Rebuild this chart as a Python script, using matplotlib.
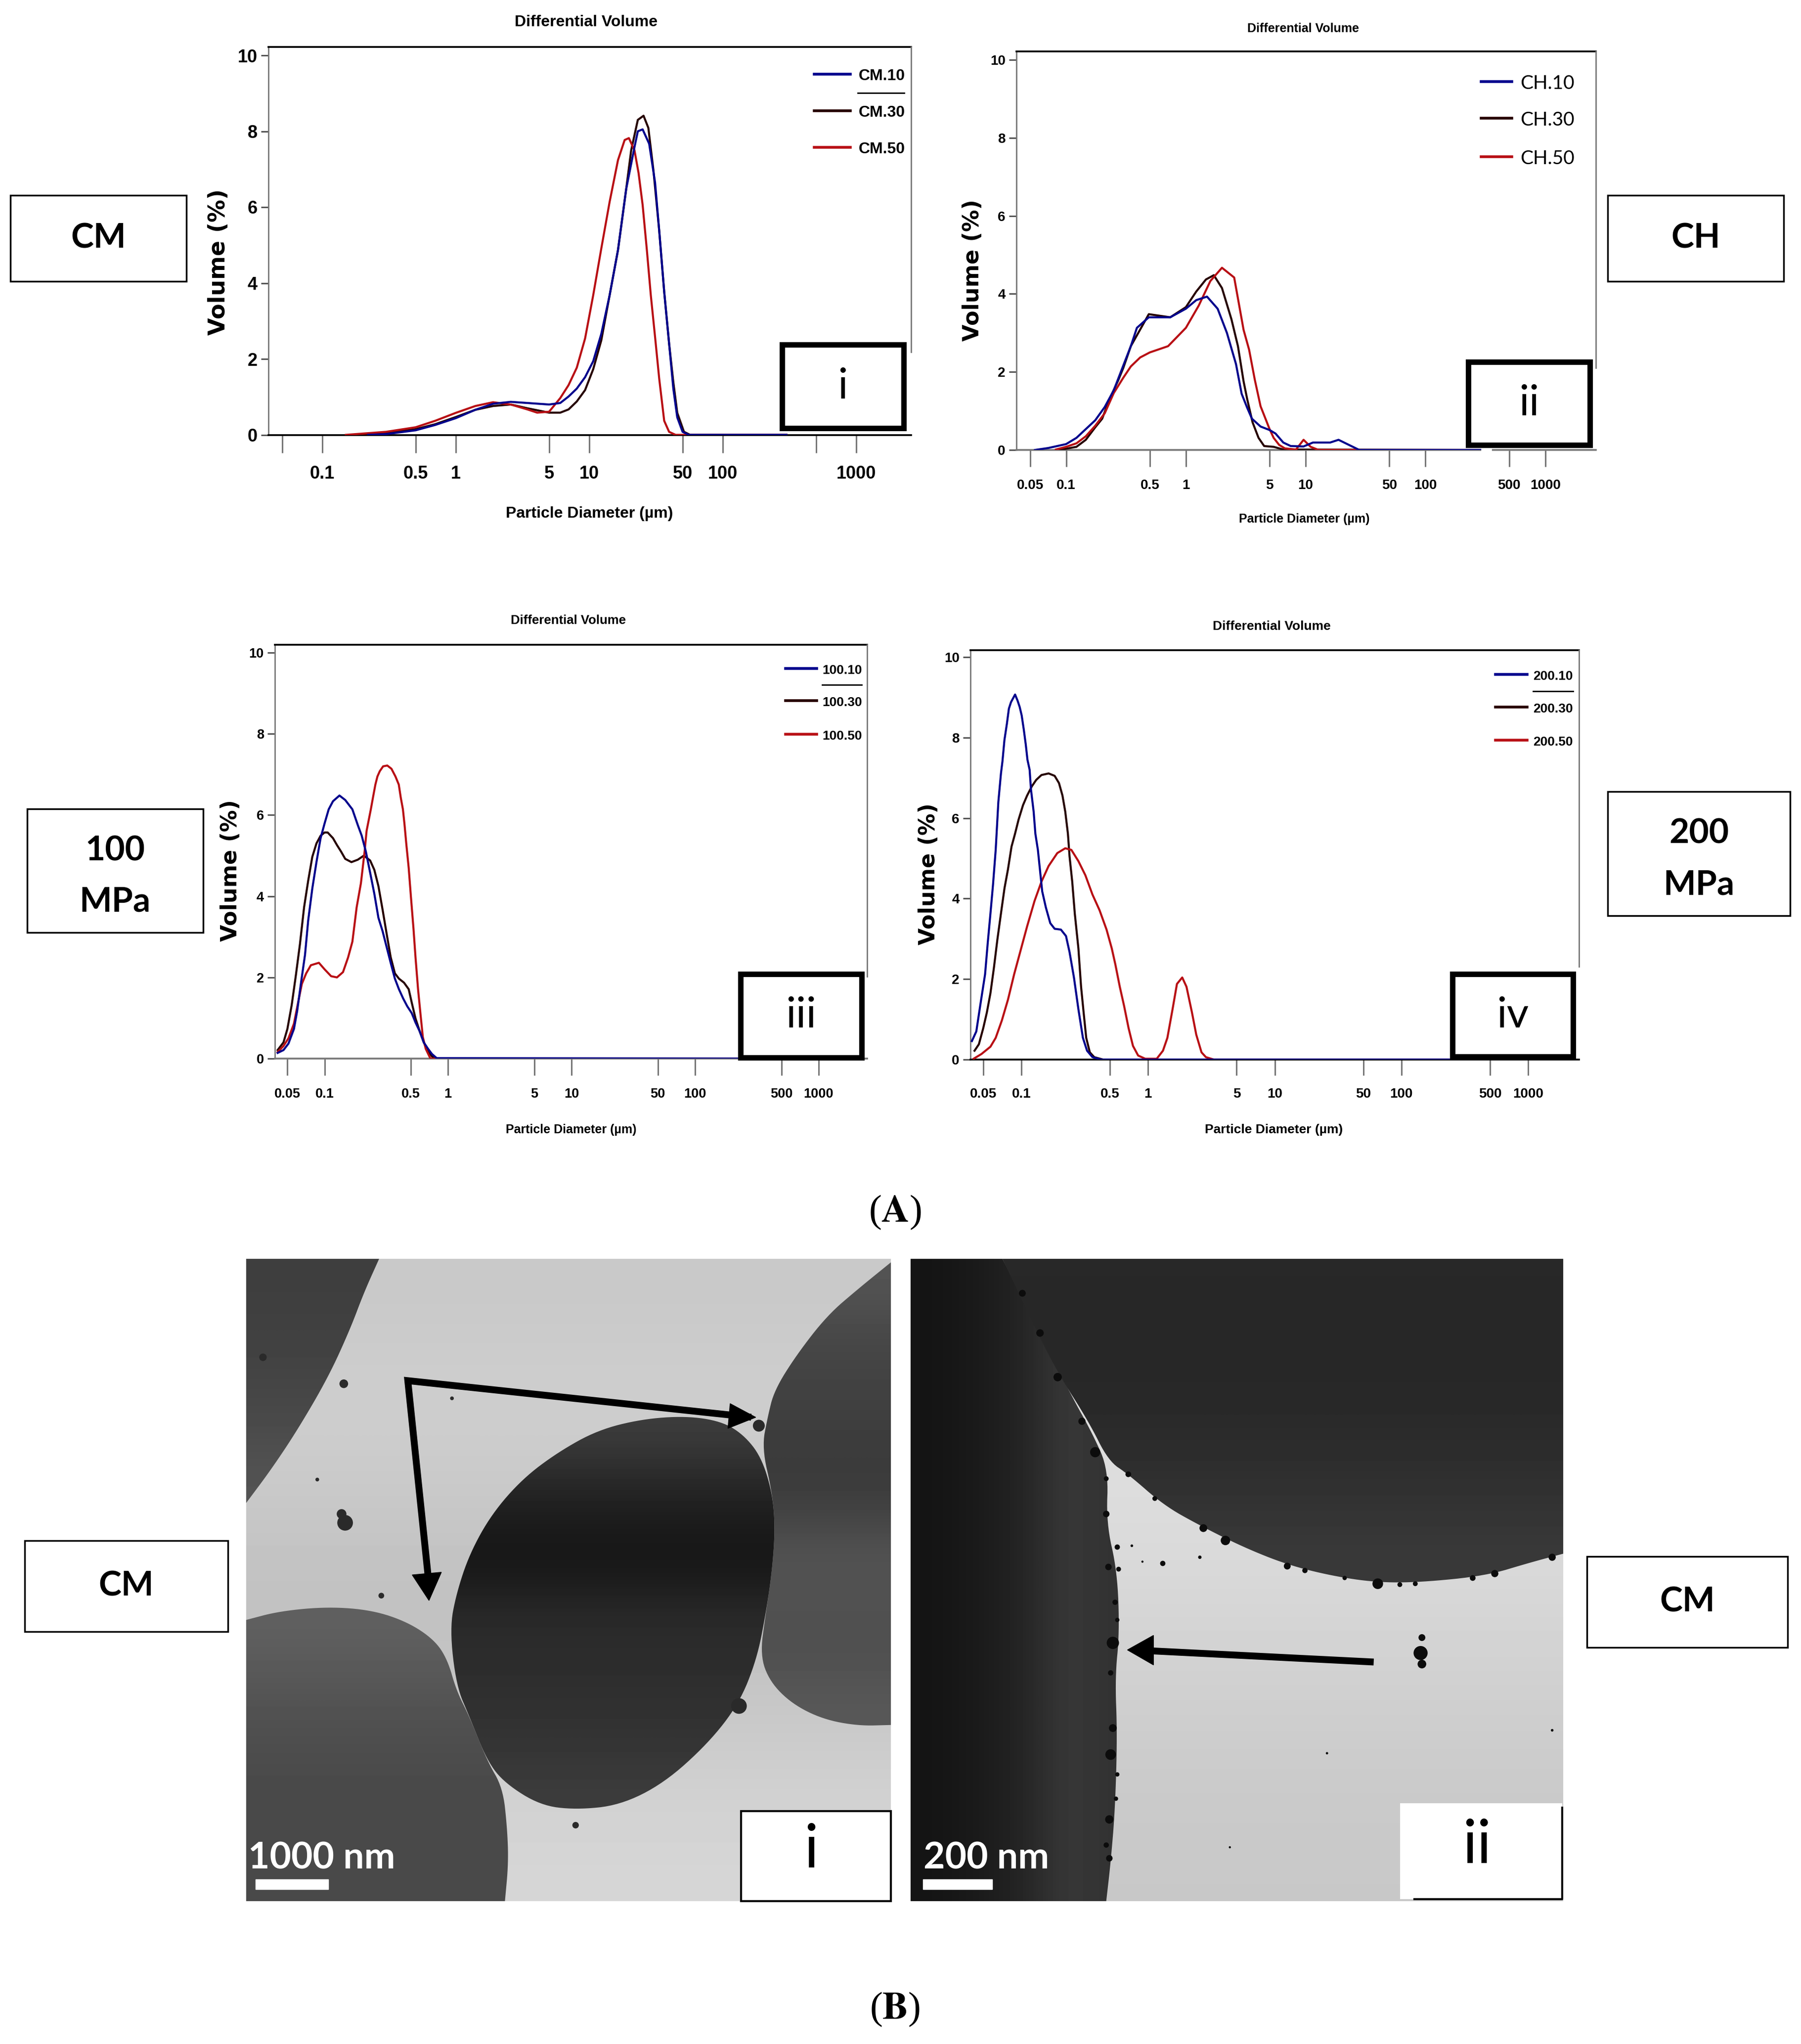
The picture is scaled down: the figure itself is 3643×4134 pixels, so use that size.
#!/usr/bin/env python3
# Particle size distributions (A) and TEM micrographs (B)
import matplotlib
matplotlib.use('Agg')
import matplotlib.pyplot as plt
import numpy as np
from matplotlib.patches import Polygon, Rectangle

W, H = 3643, 4134
NARROW = ['Liberation Sans', 'DejaVu Sans']
BOXFONT = ['Lato', 'Open Sans', 'DejaVu Sans']

BLUE, DARK, RED = '#00008c', '#250000', '#b80f14'

TICKS = [0.05, 0.1, 0.5, 1, 5, 10, 50, 100, 500, 1000]
TICK_LABELS = ['0.05', '0.1', '0.5', '1', '5', '10', '50', '100', '500', '1000']
TICK_LABELS_CM = ['', '0.1', '0.5', '1', '5', '10', '50', '100', '', '1000']
Y_TICKS = [0, 2, 4, 6, 8, 10]

# ---------------------------------------------------------------------------
# Curves (diameter um, volume %)
# ---------------------------------------------------------------------------

cm10_d = [0.22, 0.3, 0.5, 0.7, 1, 1.4, 1.9, 2.58, 3.44, 5, 6.06, 6.99, 8.06, 9.3, 10.7, 12.3, 14.2, 16.4,
          18.9, 21.8, 23.1, 25.1, 28.1, 31.1, 33.4, 36.4, 39.6, 42.6, 45.6, 50, 55.7, 300]
cm10_v = [0, 0.02, 0.12, 0.26, 0.44, 0.66, 0.82, 0.87, 0.84, 0.8, 0.84, 1.01, 1.22, 1.52, 1.94, 2.66, 3.68,
          4.87, 6.48, 7.58, 8.0, 8.05, 7.67, 6.65, 5.38, 3.77, 2.41, 1.22, 0.46, 0.08, 0, 0]
cm30_d = [0.2, 0.3, 0.5, 0.7, 1, 1.4, 1.9, 2.58, 3.44, 5, 6.06, 6.99, 8.06, 9.3, 10.7, 12.3, 14.2, 16.4,
          18.9, 20.6, 23.1, 25.5, 27.7, 30.2, 33.4, 36.4, 39.6, 42.6, 45.6, 51.2, 57, 300]
cm30_v = [0, 0.04, 0.15, 0.28, 0.47, 0.66, 0.76, 0.8, 0.7, 0.585, 0.585, 0.67, 0.88, 1.18, 1.73, 2.49, 3.68,
          4.87, 6.48, 7.5, 8.3, 8.41, 8.09, 6.99, 5.38, 3.77, 2.41, 1.39, 0.58, 0.08, 0, 0]
cm50_d = [0.15, 0.3, 0.5, 0.7, 1, 1.4, 1.9, 2.58, 3.44, 4.07, 5, 6.06, 6.99, 8.06, 9.3, 10.7, 12.3, 14.2,
          16.4, 18.4, 19.8, 21.8, 23.4, 25.1, 27, 28.9, 31.1, 33.4, 36.4, 39.6, 44.3, 300]
cm50_v = [0, 0.08, 0.2, 0.37, 0.58, 0.76, 0.86, 0.8, 0.67, 0.585, 0.61, 0.97, 1.31, 1.77, 2.54, 3.68, 4.91,
          6.14, 7.24, 7.77, 7.82, 7.5, 6.9, 6.06, 4.87, 3.68, 2.58, 1.48, 0.37, 0.08, 0, 0]

ch10_d = [0.055, 0.071, 0.1, 0.122, 0.175, 0.21, 0.25, 0.3, 0.347, 0.39, 0.49, 0.74, 1, 1.22, 1.5, 1.84, 2.2,
          2.62, 2.92, 3.25, 3.56, 4.2, 5, 5.6, 6.5, 7.5, 9.6, 11.5, 16, 18.8, 28, 300]
ch10_v = [0, 0.05, 0.15, 0.31, 0.76, 1.1, 1.53, 2.16, 2.66, 3.13, 3.4, 3.4, 3.62, 3.84, 3.93, 3.62, 3.0,
          2.2, 1.44, 1.08, 0.8, 0.6, 0.51, 0.42, 0.19, 0.1, 0.09, 0.19, 0.19, 0.26, 0, 0]
ch30_d = [0.088, 0.122, 0.146, 0.175, 0.2, 0.23, 0.27, 0.3, 0.347, 0.49, 0.74, 1, 1.22, 1.47, 1.71, 2.0, 2.4,
          2.72, 3.03, 3.25, 3.6, 4.04, 4.5, 5.4, 6.5, 300]
ch30_v = [0, 0.08, 0.26, 0.58, 0.8, 1.3, 1.76, 2.1, 2.66, 3.48, 3.4, 3.66, 4.06, 4.37, 4.48, 4.15, 3.35,
          2.66, 1.76, 1.3, 0.71, 0.31, 0.1, 0.08, 0.01, 0]
ch50_d = [0.082, 0.1, 0.122, 0.146, 0.175, 0.21, 0.25, 0.3, 0.347, 0.415, 0.5, 0.71, 1, 1.28, 1.6, 2.0, 2.53,
          3.03, 3.37, 3.76, 4.2, 5, 5.4, 6, 6.7, 8.3, 9.6, 11, 12.8, 300]
ch50_v = [0.01, 0.08, 0.17, 0.35, 0.62, 0.94, 1.46, 1.85, 2.14, 2.37, 2.5, 2.66, 3.13, 3.7, 4.33, 4.67, 4.42,
          3.08, 2.57, 1.8, 1.12, 0.53, 0.31, 0.13, 0.04, 0.01, 0.26, 0.08, 0, 0]

m100_10_d = [0.0417, 0.0465, 0.051, 0.0565, 0.06, 0.0647, 0.0695, 0.0737, 0.0796, 0.086, 0.0929, 0.1, 0.108,
             0.117, 0.132, 0.147, 0.168, 0.186, 0.2, 0.216, 0.234, 0.253, 0.273, 0.295, 0.318, 0.343, 0.371,
             0.4, 0.433, 0.467, 0.508, 0.545, 0.59, 0.636, 0.689, 0.742, 0.81, 300]
m100_10_v = [0.14, 0.21, 0.37, 0.73, 1.17, 1.9, 2.56, 3.4, 4.19, 4.84, 5.43, 5.79, 6.14, 6.34, 6.48, 6.37,
             6.14, 5.75, 5.49, 5.1, 4.58, 4.06, 3.47, 3.14, 2.75, 2.36, 1.97, 1.71, 1.48, 1.29, 1.12, 0.89,
             0.67, 0.4, 0.24, 0.11, 0.01, 0]
m100_30_d = [0.0417, 0.0465, 0.05, 0.0542, 0.0585, 0.0632, 0.0683, 0.0737, 0.0796, 0.086, 0.0929, 0.1, 0.106,
             0.117, 0.126, 0.136, 0.147, 0.165, 0.186, 0.208, 0.234, 0.253, 0.273, 0.295, 0.318, 0.343, 0.371,
             0.4, 0.44, 0.48, 0.508, 0.545, 0.59, 0.636, 0.689, 0.742, 0.81, 300]
m100_30_v = [0.21, 0.4, 0.73, 1.32, 2.04, 2.82, 3.73, 4.38, 4.97, 5.3, 5.49, 5.57, 5.57, 5.43, 5.26, 5.1,
             4.92, 4.84, 4.9, 5.0, 4.88, 4.65, 4.25, 3.67, 3.08, 2.5, 2.1, 1.97, 1.87, 1.71, 1.38, 0.99,
             0.67, 0.4, 0.18, 0.05, 0, 0]
m100_50_d = [0.0417, 0.0465, 0.051, 0.0565, 0.0605, 0.0655, 0.071, 0.0775, 0.09, 0.1, 0.113, 0.126, 0.141,
             0.155, 0.168, 0.182, 0.197, 0.211, 0.219, 0.237, 0.248, 0.258, 0.268, 0.28, 0.298, 0.322, 0.348,
             0.375, 0.399, 0.414, 0.431, 0.444, 0.459, 0.48, 0.5, 0.525, 0.545, 0.572, 0.6, 0.625, 0.66, 0.72,
             300]
m100_50_v = [0.16, 0.31, 0.5, 0.86, 1.32, 1.84, 2.1, 2.3, 2.36, 2.2, 2.03, 2.0, 2.13, 2.49, 2.88, 3.73, 4.32,
             5.1, 5.61, 6.14, 6.47, 6.75, 6.95, 7.08, 7.2, 7.22, 7.14, 6.95, 6.75, 6.43, 6.14, 5.77, 5.29, 4.7,
             4.0, 3.2, 2.5, 1.7, 1.06, 0.53, 0.24, 0, 0]

m200_10_d = [0.0407, 0.0441, 0.0477, 0.0517, 0.0543, 0.057, 0.0597, 0.0627, 0.0658, 0.069, 0.0709, 0.0735,
             0.0769, 0.0797, 0.0828, 0.0892, 0.0933, 0.097, 0.1006, 0.1046, 0.1084, 0.1117, 0.1162, 0.119,
             0.125, 0.129, 0.135, 0.14, 0.146, 0.156, 0.169, 0.183, 0.205, 0.225, 0.24, 0.26, 0.282, 0.306,
             0.33, 0.364, 0.427, 300]
m200_10_v = [0.46, 0.7, 1.41, 2.12, 2.91, 3.63, 4.34, 5.21, 6.4, 7.11, 7.41, 7.94, 8.35, 8.72, 8.88, 9.07,
             8.92, 8.76, 8.55, 8.19, 7.82, 7.45, 7.2, 6.72, 6.16, 5.61, 5.21, 4.73, 4.18, 3.78, 3.39, 3.25,
             3.23, 3.07, 2.67, 2.04, 1.25, 0.54, 0.22, 0.06, 0, 0]
m200_30_d = [0.0427, 0.0462, 0.05, 0.0534, 0.057, 0.0607, 0.0647, 0.069, 0.0736, 0.0784, 0.0836, 0.0891, 0.095,
             0.103, 0.111, 0.121, 0.131, 0.144, 0.164, 0.183, 0.198, 0.211, 0.222, 0.233, 0.24, 0.252, 0.264,
             0.282, 0.296, 0.31, 0.325, 0.347, 0.376, 0.441, 300]
m200_30_v = [0.22, 0.38, 0.78, 1.17, 1.65, 2.28, 2.99, 3.63, 4.26, 4.73, 5.29, 5.61, 5.96, 6.32, 6.56, 6.79,
             6.95, 7.07, 7.11, 7.05, 6.87, 6.56, 6.16, 5.61, 5.05, 4.42, 3.63, 2.76, 1.81, 1.17, 0.54, 0.18,
             0.06, 0, 0]
m200_50_d = [0.042, 0.0485, 0.057, 0.0627, 0.0701, 0.0784, 0.0877, 0.098, 0.111, 0.127, 0.144, 0.164, 0.192,
             0.222, 0.248, 0.282, 0.32, 0.364, 0.414, 0.47, 0.517, 0.552, 0.598, 0.647, 0.702, 0.76, 0.835,
             0.95, 1.17, 1.31, 1.42, 1.56, 1.69, 1.86, 2.01, 2.22, 2.4, 2.64, 2.86, 3.3, 300]
m200_50_v = [0.02, 0.14, 0.32, 0.54, 0.97, 1.49, 2.12, 2.68, 3.31, 3.94, 4.42, 4.81, 5.13, 5.25, 5.21, 4.93,
             4.58, 4.1, 3.71, 3.23, 2.76, 2.36, 1.81, 1.33, 0.78, 0.34, 0.1, 0.02, 0.02, 0.22, 0.54, 1.25,
             1.88, 2.04, 1.81, 1.17, 0.62, 0.18, 0.06, 0, 0]

# ---------------------------------------------------------------------------
# Outlines of the particles in the micrographs (picture pixels)
# ---------------------------------------------------------------------------

tem1_topleft = [(355, 52), (320, 130), (290, 210), (240, 320), (170, 440), (110, 530), (54, 605)]
tem1_botleft = [(54, 870), (130, 850), (240, 840), (340, 848), (420, 875), (480, 915), (510, 960), (530, 1030),
                (560, 1090), (600, 1190), (635, 1250), (645, 1340), (648, 1420), (640, 1507)]
tem1_center = [(515, 890), (530, 810), (560, 720), (610, 630), (680, 550), (760, 490), (850, 440), (950, 415),
               (1050, 408), (1130, 420), (1180, 450), (1220, 500), (1245, 580), (1252, 660), (1245, 760),
               (1230, 860), (1210, 960), (1170, 1060), (1100, 1150), (1000, 1240), (900, 1290), (800, 1300),
               (720, 1290), (640, 1240), (600, 1190), (560, 1090), (530, 1020)]
tem1_right = [(1514, 60), (1440, 120), (1370, 180), (1300, 270), (1250, 350), (1235, 410), (1222, 480),
              (1245, 580), (1252, 660), (1245, 760), (1230, 860), (1218, 950), (1240, 1010), (1290, 1060),
              (1360, 1095), (1440, 1110), (1514, 1108)]
tem1_specks = [(92, 275, 120), (275, 335, 160), (278, 650, 520), (270, 630, 200), (800, 1335, 90),
               (1170, 1065, 520), (1215, 430, 300), (520, 368, 30), (215, 552, 30), (360, 815, 70)]

tem2_left = [(255, 52), (300, 140), (350, 240), (410, 360), (460, 450), (495, 530), (490, 650),
             (515, 760), (520, 900), (510, 1000), (515, 1130), (510, 1300), (500, 1420), (490, 1507)]
tem2_top = [(1525, 720), (1450, 740), (1350, 770), (1200, 785), (1100, 785), (1000, 770),
            (900, 745), (800, 705), (700, 655), (620, 610), (540, 540), (495, 510), (450, 420), (380, 310),
            (320, 190), (255, 52)]
tem2_dots = [(300, 130, 100), (340, 220, 120), (380, 320, 150), (435, 420, 110), (465, 490, 220), (490, 550, 50),
             (490, 630, 90), (515, 705, 60), (495, 750, 90), (518, 755, 50), (510, 830, 60), (515, 870, 40),
             (505, 922, 320), (500, 990, 60), (505, 1115, 130), (500, 1175, 240), (515, 1220, 40), (512, 1275, 40),
             (497, 1322, 150), (490, 1380, 60), (497, 1410, 90), (540, 540, 70), (600, 595, 50), (710, 662, 130),
             (760, 690, 190), (900, 748, 100), (940, 758, 60), (1030, 775, 40), (1105, 788, 240), (1155, 790, 50),
             (1190, 788, 50), (1320, 775, 70), (1370, 765, 110), (1500, 728, 110), (618, 742, 60), (702, 728, 25),
             (548, 702, 15), (572, 738, 10), (1205, 910, 100), (1202, 945, 420), (1205, 970, 160), (770, 1385, 10),
             (990, 1172, 12), (1500, 1120, 15)]


def px_axes(fig, left, top, right, bottom):
    return fig.add_axes([left / W, 1 - bottom / H, (right - left) / W, (bottom - top) / H])


def round_outline(points, closed=False, passes=3):
    """Chaikin corner cutting, only to take the facets off the traced outlines."""
    pts = np.array(points, dtype=float)
    for _ in range(passes):
        a = pts if closed else pts[:-1]
        b = np.roll(pts, -1, axis=0) if closed else pts[1:]
        cut = np.empty((2 * len(a), 2))
        cut[0::2] = 0.75 * a + 0.25 * b
        cut[1::2] = 0.25 * a + 0.75 * b
        if not closed:
            cut = np.vstack([pts[0], cut, pts[-1]])
        pts = cut
    return pts


def draw_panel(fig, curves, left, right, top, y0, y10, tick01, decade, tick_len, tick_fs, labels=TICK_LABELS, base='black'):
    ax = px_axes(fig, left, top, right, y0)
    ax.set_xscale('log')
    ax.set_xlim(0.1 * 10 ** ((left - tick01) / decade), 0.1 * 10 ** ((right - tick01) / decade))
    ax.set_ylim(0, 10 * (y0 - top) / (y0 - y10))
    for d, v, color, name in curves:
        ax.plot(d, v, color=color, lw=3.0, label=name, solid_joinstyle='round', zorder=3)
    ax.set_xticks(TICKS)
    ax.set_xticklabels(labels, family=NARROW, fontweight='bold', fontsize=tick_fs)
    ax.set_yticks(Y_TICKS)
    ax.set_yticklabels([str(t) for t in Y_TICKS], family=NARROW, fontweight='bold', fontsize=tick_fs)
    ax.minorticks_off()
    ax.tick_params(axis='x', length=tick_len * 0.72, width=2.2, color='#777777', pad=18)
    ax.tick_params(axis='y', length=11, width=2.2, color='#555555', pad=5)
    ax.spines['left'].set_color('#777777')
    ax.spines['left'].set_linewidth(2)
    ax.spines['right'].set_visible(False)
    ax.spines['top'].set_linewidth(2.6)
    ax.spines['bottom'].set_color(base)
    ax.spines['bottom'].set_linewidth(2.6)
    return ax


def draw_tem(fig, left, top, right, bottom, xlim, bg_stops):
    ax = px_axes(fig, left, top, right, bottom)
    ax.set_xlim(*xlim)
    ax.set_ylim(1507, 52)
    ax.set_xticks([])
    ax.set_yticks([])
    for s in ax.spines.values():
        s.set_visible(False)
    ramp = np.array(bg_stops, dtype=float).reshape(-1, 1)
    ax.imshow(ramp, cmap='gray', vmin=0, vmax=255, aspect='auto', extent=(xlim[0], xlim[1], 1507, 52),
              interpolation='bicubic', zorder=0)
    return ax


def shaded(ax, outline, stops, extent, horizontal=False):
    """Polygon filled with a grey ramp (stops run top to bottom, or left to right)."""
    poly = Polygon(outline, closed=True, facecolor='none', edgecolor='none')
    ax.add_patch(poly)
    ramp = np.array(stops, dtype=float).reshape(1, -1) if horizontal else np.array(stops, dtype=float).reshape(-1, 1)
    im = ax.imshow(ramp, cmap='gray', vmin=0, vmax=255, aspect='auto', extent=extent, interpolation='bicubic', zorder=1)
    im.set_clip_path(poly)
    return im


def main():
    fig = plt.figure(figsize=(W / 100, H / 100), dpi=100, facecolor='white')

    # --- (A) size distributions ---
    draw_panel(fig, [(cm30_d, cm30_v, DARK, 'CM.30'), (cm50_d, cm50_v, RED, 'CM.50'), (cm10_d, cm10_v, BLUE, 'CM.10')],
               543, 1843, 95, 879.5, 112, 652, 270, 36, 26, labels=TICK_LABELS_CM)
    draw_panel(fig, [(ch30_d, ch30_v, DARK, 'CH.30'), (ch50_d, ch50_v, RED, 'CH.50'), (ch10_d, ch10_v, BLUE, 'CH.10')],
               2056, 3228, 104, 910, 121, 2156.5, 242.3, 34, 20, base='#777777')
    draw_panel(fig, [(m100_30_d, m100_30_v, DARK, '100.30'), (m100_50_d, m100_50_v, RED, '100.50'),
                     (m100_10_d, m100_10_v, BLUE, '100.10')],
               556, 1754, 1304, 2141, 1320, 656.5, 249.8, 34, 19.5, base='#777777')
    draw_panel(fig, [(m200_30_d, m200_30_v, DARK, '200.30'), (m200_50_d, m200_50_v, RED, '200.50'),
                     (m200_10_d, m200_10_v, BLUE, '200.10')],
               1963, 3194, 1315, 2143, 1329, 2066, 256.3, 32, 20)

    # --- (B) micrographs ---
    t1 = draw_tem(fig, 498, 2546, 1802, 3845, (54, 1514), [200, 206, 204, 196, 192, 198, 208, 214])
    shaded(t1, np.vstack([[(54, 52)], round_outline(tem1_topleft)]), [62, 66, 72, 84], (54, 400, 620, 52))
    shaded(t1, np.vstack([round_outline(tem1_botleft), [(54, 1507)]]), [96, 84, 76, 72, 74], (54, 660, 1507, 840))
    shaded(t1, round_outline(tem1_right), [84, 70, 66, 60, 58, 82, 82, 78, 88], (1200, 1514, 1110, 60))
    shaded(t1, round_outline(tem1_center, closed=True), [60, 40, 26, 22, 42, 44, 48, 52, 60], (515, 1252, 1300, 408))
    t1.set_xlim(54, 1514)
    t1.set_ylim(1507, 52)
    sx, sy, ss = zip(*tem1_specks)
    t1.scatter(sx, sy, s=ss, c='#2a2a2a', linewidths=0, zorder=4)
    t1.plot([1190, 420, 468], [410, 328, 790], color='black', lw=10, solid_joinstyle='miter', zorder=5)
    t1.add_patch(Polygon([(1208, 411), (1150, 380), (1145, 436)], color='black', zorder=5))
    t1.add_patch(Polygon([(468, 826), (430, 768), (496, 762)], color='black', zorder=5))
    t1.text(58, 1410, '1000 nm', color='white', fontsize=54, fontweight='bold', family=BOXFONT, va='center', zorder=6)
    t1.add_patch(Rectangle((75, 1458), 165, 22, color='white', zorder=6))
    t1.add_patch(Rectangle((1175, 1303), 339, 204, facecolor='white', edgecolor='black', lw=3, zorder=6, clip_on=False))
    t1.text(1333, 1392, 'i', fontsize=88, family=BOXFONT, ha='center', va='center', zorder=7)

    t2 = draw_tem(fig, 1842, 2546, 3162, 3845, (47, 1525), [222, 222, 220, 212, 204, 200])
    shaded(t2, np.vstack([round_outline(tem2_left), [(47, 1507)], [(47, 52)]]), [20, 24, 30, 40, 58, 50], (47, 520, 1507, 52),
           horizontal=True)
    shaded(t2, np.vstack([round_outline(tem2_top), [(1525, 52)]]), [40, 38, 42, 48, 58], (255, 1525, 790, 52))
    t2.set_xlim(47, 1525)
    t2.set_ylim(1507, 52)
    sx, sy, ss = zip(*tem2_dots)
    t2.scatter(sx, sy, s=ss, c='#0c0c0c', linewidths=0, zorder=4)
    t2.plot([1088, 590], [965, 940], color='black', lw=10, zorder=5)
    t2.add_patch(Polygon([(538, 938), (597, 905), (597, 972)], color='black', zorder=5))
    t2.text(76, 1410, '200 nm', color='white', fontsize=54, fontweight='bold', family=BOXFONT, va='center', zorder=6)
    t2.add_patch(Rectangle((75, 1458), 157, 22, color='white', zorder=6))
    t2.add_patch(Rectangle((1155, 1285), 368, 218, facecolor='white', edgecolor='none', zorder=6))
    t2.plot([1188, 1523, 1523], [1503, 1503, 1295], color='black', lw=3, zorder=7)
    t2.text(1330, 1382, 'ii', fontsize=88, family=BOXFONT, ha='center', va='center', zorder=7)

    # --- overlay: boxes, legends and all loose text, in picture pixels ---
    ov = fig.add_axes([0, 0, 1, 1], zorder=10)
    ov.set_xlim(0, W)
    ov.set_ylim(H, 0)
    ov.axis('off')
    ov.patch.set_alpha(0)

    titles = [(1186, 45, 23), (2636, 58, 18), (1150, 1255, 18.5), (2572, 1267, 19)]
    for x, y, fs in titles:
        ov.text(x, y, 'Differential Volume', family=NARROW, fontweight='bold', fontsize=fs, ha='center', va='center')
    xlabels = [(1192, 1039, 23), (2638, 1050, 18), (1155, 2285, 18), (2577, 2285, 19)]
    for x, y, fs in xlabels:
        ov.text(x, y, 'Particle Diameter (µm)', family=NARROW, fontweight='bold', fontsize=fs, ha='center', va='center')
    ylabels = [(443, 530, 33), (1968, 547, 32), (467, 1761, 32), (1879, 1768, 32)]
    for x, y, fs in ylabels:
        ov.text(x, y, 'Volume (%)', family='DejaVu Sans', fontweight='bold', fontsize=fs,
                rotation=90, ha='center', va='center')

    # right edges that stop at the panel boxes
    for x, y1, y2 in [(1843, 95, 712), (3228, 104, 744), (1754, 1304, 1975), (3194, 1315, 1955)]:
        ov.plot([x, x], [y1, y2], color='#777777', lw=2)
    ov.plot([2999, 3015], [910, 910], color='white', lw=4)

    legends = [
        (1647, 1720, 1737, [150, 224, 298], ['CM.10', 'CM.30', 'CM.50'], 23, 'bold', NARROW, (188, 1735, 1829)),
        (2996, 3058, 3075, [165, 239, 317], ['CH.10', 'CH.30', 'CH.50'], 28, 'normal', BOXFONT, None),
        (1589, 1652, 1663, [1352, 1417, 1485], ['100.10', '100.30', '100.50'], 19, 'bold', NARROW, (1385, 1663, 1743)),
        (3025, 3089, 3101, [1364, 1430, 1497], ['200.10', '200.30', '200.50'], 19, 'bold', NARROW, (1398, 3101, 3182)),
    ]
    for x1, x2, xt, ys, names, fs, wt, fam, rule in legends:
        for y, name, color in zip(ys, names, [BLUE, DARK, RED]):
            ov.plot([x1, x2], [y, y], color=color, lw=4)
            ov.text(xt, y + 4, name, family=fam, fontweight=wt, fontsize=fs, va='center')
        if rule:
            ov.plot([rule[1], rule[2]], [rule[0], rule[0]], color='black', lw=2)

    panel_boxes = [(1582, 697, 1828, 866, 'i'), (2970, 732, 3216, 900, 'ii'),
                   (1498, 1970, 1743, 2139, 'iii'), (2938, 1970, 3182, 2137, 'iv')]
    for x1, y1, x2, y2, name in panel_boxes:
        ov.add_patch(Rectangle((x1, y1), x2 - x1, y2 - y1, facecolor='white', edgecolor='black', lw=8))
        ov.text((x1 + x2) / 2, (y1 + y2) / 2, name, family=BOXFONT, fontsize=62, ha='center', va='center')

    side_boxes = [(21, 395, 377, 569, ['CM']), (3252, 395, 3608, 569, ['CH']), (55, 1636, 411, 1886, ['100', 'MPa']),
                  (3252, 1601, 3621, 1852, ['200', 'MPa']), (50, 3116, 461, 3300, ['CM']), (3210, 3148, 3616, 3332, ['CM'])]
    for x1, y1, x2, y2, lines in side_boxes:
        ov.add_patch(Rectangle((x1, y1), x2 - x1, y2 - y1, facecolor='white', edgecolor='black', lw=2.5))
        if len(lines) == 1:
            ov.text((x1 + x2) / 2, (y1 + y2) / 2, lines[0], family=BOXFONT, fontweight='bold', fontsize=50,
                    ha='center', va='center')
        else:
            for k, line in enumerate(lines):
                ov.text((x1 + x2) / 2, (y1 + y2) / 2 - 40 + 103 * k, line, family=BOXFONT, fontweight='bold',
                        fontsize=50, ha='center', va='center')

    for y, name in [(2452, 'A'), (4064, 'B')]:
        ov.text(1810, y, f'($\\mathbf{{{name}}}$)', family='Liberation Serif', fontsize=56, ha='center', va='center',
                math_fontfamily='stix')

    fig.savefig('out.png', dpi=100, facecolor='white')
    plt.close(fig)


if __name__ == '__main__':
    main()
